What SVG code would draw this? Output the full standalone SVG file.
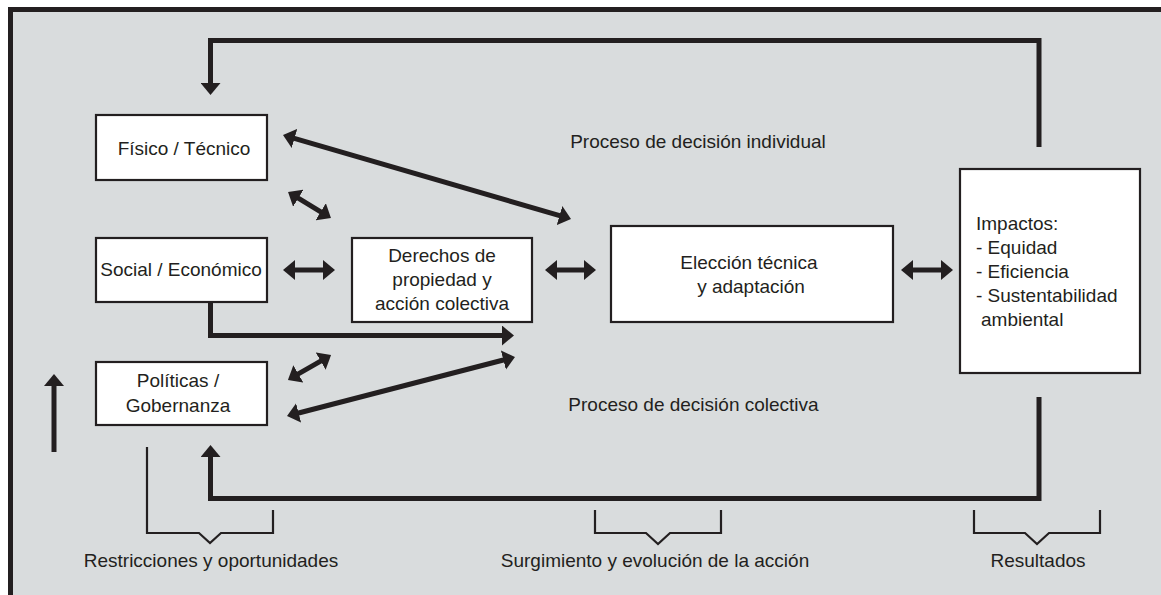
<svg xmlns="http://www.w3.org/2000/svg" width="1161" height="595" viewBox="0 0 1161 595">
<style>
.box{fill:#fff;stroke:#231f20;stroke-width:2.2}
.t{font-family:"Liberation Sans",Arial,sans-serif;font-size:19px;fill:#231f20}
.m{text-anchor:middle}
.a{fill:none;stroke:#231f20;stroke-width:5}
.b{fill:none;stroke:#231f20;stroke-width:2.2}
</style>
<defs>
<marker id="h" viewBox="0 0 12 20" refX="2" refY="10" markerWidth="12" markerHeight="20" markerUnits="userSpaceOnUse" orient="auto-start-reverse">
<path d="M0,0 L12,10 L0,20 Z" fill="#231f20"/>
</marker>
</defs>
<rect x="0" y="0" width="1161" height="595" fill="#fff"/>
<rect x="10.5" y="9.5" width="1200" height="700" fill="#d9dcdd" stroke="#231f20" stroke-width="5"/>

<g id="connectors">
<path class="a" d="M1039,147 V40.5 H210.5 V85" marker-end="url(#h)"/>
<path class="a" d="M1039,397 V498.5 H210.5 V455" marker-end="url(#h)"/>
<path class="a" d="M210.5,302 V335.5 H504" marker-end="url(#h)"/>
<path class="a" d="M54,452 V384" marker-end="url(#h)"/>
<path class="a" d="M292.6,137.8 L561.4,216.2" marker-start="url(#h)" marker-end="url(#h)"/>
<path class="a" d="M296.6,197.2 L322.4,212.8" marker-start="url(#h)" marker-end="url(#h)"/>
<path class="a" d="M293,270 H325" marker-start="url(#h)" marker-end="url(#h)"/>
<path class="a" d="M555,270 H586" marker-start="url(#h)" marker-end="url(#h)"/>
<path class="a" d="M911,270 H943" marker-start="url(#h)" marker-end="url(#h)"/>
<path class="a" d="M296.6,374.9 L322.4,360.1" marker-start="url(#h)" marker-end="url(#h)"/>
<path class="a" d="M296.7,413.5 L505.3,359.5" marker-start="url(#h)" marker-end="url(#h)"/>
</g>

<g id="fisico">
<rect class="box" x="96" y="115" width="171" height="65"/>
<text class="t m" x="184" y="155">Físico / Técnico</text>
</g>
<g id="social">
<rect class="box" x="96" y="238" width="171" height="64"/>
<text class="t m" x="181" y="276">Social / Económico</text>
</g>
<g id="politicas">
<rect class="box" x="96" y="362" width="171" height="63"/>
<text class="t m" x="178" y="387">Políticas /</text>
<text class="t m" x="178" y="412">Gobernanza</text>
</g>
<g id="derechos">
<rect class="box" x="352" y="238" width="180" height="84"/>
<text class="t m" x="442" y="262">Derechos de</text>
<text class="t m" x="442" y="286">propiedad y</text>
<text class="t m" x="442" y="310">acción colectiva</text>
</g>
<g id="eleccion">
<rect class="box" x="611" y="226" width="282" height="96"/>
<text class="t m" x="749" y="269">Elección técnica</text>
<text class="t m" x="751" y="293">y adaptación</text>
</g>
<g id="impactos">
<rect class="box" x="960" y="169" width="180" height="204"/>
<text class="t" x="976" y="229.5">Impactos:</text>
<text class="t" x="976" y="253.5">- Equidad</text>
<text class="t" x="976" y="277.5">- Eficiencia</text>
<text class="t" x="976" y="301.5">- Sustentabilidad</text>
<text class="t" x="981" y="325.5">ambiental</text>
</g>

<g id="labels">
<text class="t m" x="698" y="148">Proceso de decisión individual</text>
<text class="t m" x="693.5" y="411">Proceso de decisión colectiva</text>
</g>

<g id="brackets">
<path class="b" d="M147,447 V533 H199 L210,543 L221,533 H273 V510"/>
<text class="t m" x="211" y="567">Restricciones y oportunidades</text>
<path class="b" d="M595,510 V533 H646 L658,544 L670,533 H721 V510"/>
<text class="t m" x="655" y="567">Surgimiento y evolución de la acción</text>
<path class="b" d="M974,510 V533 H1025 L1037,544 L1049,533 H1100 V510"/>
<text class="t m" x="1038" y="567">Resultados</text>
</g>
</svg>
